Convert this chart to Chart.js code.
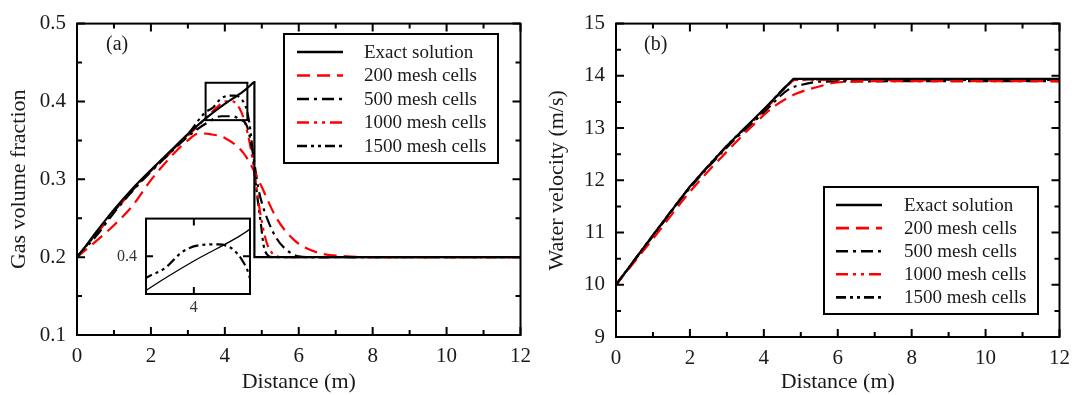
<!DOCTYPE html>
<html lang="en">
<head>
<meta charset="UTF-8">
<title>Gas volume fraction and water velocity</title>
<script src="https://cdn.jsdelivr.net/npm/chart.js"></script>
<style>
  body { margin: 0; background: #fff; }
  #wrap { position: relative; width: 1079px; height: 395px; }
  canvas { position: absolute; }
</style>
</head>
<body>
<div id="wrap">
  <canvas id="gas" width="540" height="395" style="left:0;top:0"></canvas>
  <canvas id="vel" width="539" height="395" style="left:540px;top:0"></canvas>
  <canvas id="inset" width="160" height="120" style="left:100px;top:200px"></canvas>
</div>
<script>
// ---- series labels ----
const seriesNames = ['Exact solution', '200 mesh cells', '500 mesh cells', '1000 mesh cells', '1500 mesh cells'];

// ---- (a) gas volume fraction vs distance (m) ----
const gasExactX = [0, 0.25, 0.5, 1, 1.5, 2, 2.5, 3, 3.5, 4, 4.5, 4.7, 4.8, 4.8, 12];
const gasExactY = [0.2, 0.215, 0.231, 0.261, 0.288, 0.312, 0.335, 0.358, 0.379, 0.397, 0.413, 0.421, 0.425, 0.2, 0.2];
const gas200X = [0, 0.5, 1, 1.5, 2, 2.5, 3, 3.3, 3.6, 4, 4.5, 4.8, 5, 5.4, 5.9, 6.5, 7.3, 8, 12];
const gas200Y = [0.2, 0.22, 0.241, 0.266, 0.299, 0.327, 0.35, 0.359, 0.358, 0.353, 0.334, 0.31, 0.29, 0.25, 0.221, 0.206, 0.201, 0.2, 0.2];
const gas500X = [0, 0.5, 1, 1.5, 2, 2.5, 3, 3.5, 3.9, 4.2, 4.4, 4.6, 4.75, 4.9, 5.0, 5.2, 5.4, 5.65, 6.0, 6.3, 12];
const gas500Y = [0.2, 0.226, 0.257, 0.285, 0.31, 0.333, 0.355, 0.372, 0.381, 0.381, 0.377, 0.368, 0.336, 0.29, 0.27, 0.243, 0.224, 0.21, 0.201, 0.2, 0.2];
const gas1000X = [0, 0.5, 1, 1.5, 2, 2.5, 3, 3.5, 3.8, 4.0, 4.2, 4.4, 4.53, 4.7, 4.8, 4.94, 5.11, 5.25, 5.4, 5.6, 12];
const gas1000Y = [0.2, 0.228, 0.258, 0.285, 0.31, 0.333, 0.356, 0.379, 0.393, 0.4, 0.4, 0.391, 0.375, 0.34, 0.31, 0.262, 0.222, 0.207, 0.201, 0.2, 0.2];
const gas1500X = [0, 0.5, 1, 1.5, 2, 2.5, 3, 3.45, 3.69, 3.87, 4.05, 4.27, 4.42, 4.53, 4.6, 4.7, 4.8, 4.9, 4.98, 5.05, 5.15, 5.3, 12];
const gas1500Y = [0.2, 0.229, 0.259, 0.286, 0.311, 0.334, 0.358, 0.385, 0.3926, 0.4026, 0.407, 0.4076, 0.4046, 0.397, 0.388, 0.36, 0.31, 0.27, 0.241, 0.215, 0.203, 0.2, 0.2];
const gasZoomBox = [3.48, 4.61, 0.376, 0.424];   // x from, x to, y from, y to

// ---- (b) water velocity (m/s) vs distance (m) ----
const velExactX = [0, 1, 2, 3, 4, 4.8, 12];
const velExactY = [10, 10.95, 11.88, 12.66, 13.36, 13.94, 13.94];
const vel200X = [0, 1, 2, 3, 4, 4.31, 4.85, 5.57, 5.92, 7.35, 12];
const vel200Y = [10, 10.88, 11.78, 12.55, 13.25, 13.43, 13.65, 13.81, 13.87, 13.9, 13.9];
const vel500X = [0, 1, 2, 3, 4, 4.67, 5.03, 5.57, 12];
const vel500Y = [10, 10.93, 11.85, 12.63, 13.3, 13.74, 13.83, 13.89, 13.9];
const vel1000X = [0, 1, 2, 3, 4, 4.6, 4.85, 5.2, 12];
const vel1000Y = [10, 10.94, 11.87, 12.65, 13.33, 13.78, 13.92, 13.92, 13.9];
const vel1500X = [0, 1, 2, 3, 4, 4.7, 4.9, 12];
const vel1500Y = [10, 10.95, 11.87, 12.66, 13.35, 13.86, 13.93, 13.92];

// ---- styles ----
const serif = 'Liberation Serif';
const seriesColors = ['#000', '#ff0000', '#000', '#ff0000', '#000'];
const seriesDash = [[], [13, 7], [12, 5, 3, 5], [12, 5, 3, 5, 3, 5], [10, 4, 3, 4, 3, 4]];

const pts = (xs, ys) => xs.map((x, i) => ({ x: x, y: ys[i] }));

function makeSets(list, width) {
  return list.map((s, i) => ({
    label: seriesNames[s.k],
    data: pts(s.x, s.y),
    borderColor: seriesColors[s.k],
    borderDash: seriesDash[s.k],
    borderWidth: width[i] || 2,
    pointRadius: 0,
    fill: false,
    cubicInterpolationMode: s.straight ? 'default' : 'monotone',
    tension: 0
  }));
}

// inward ticks on all four sides + frame
const frameTicks = {
  id: 'frameTicks',
  beforeDatasetsDraw(chart, args, o) {
    if (!o.fillArea) return;
    const a = chart.chartArea, ctx = chart.ctx;
    ctx.save(); ctx.fillStyle = '#fff';
    ctx.fillRect(a.left, a.top, a.right - a.left, a.bottom - a.top);
    ctx.restore();
  },
  afterDatasetsDraw(chart, args, o) {
    const { ctx, chartArea: a, scales: { x, y } } = chart;
    const list = (sc, minor, major, fixed) => {
      if (fixed) return fixed.map(v => [v, true]);
      const n = Math.round((sc.max - sc.min) / minor), out = [];
      for (let i = 0; i <= n; i++) {
        const v = sc.min + i * minor, q = v / major;
        out.push([v, Math.abs(q - Math.round(q)) < 1e-6]);
      }
      return out;
    };
    ctx.save();
    ctx.strokeStyle = '#000';
    ctx.lineWidth = o.tickWidth;
    ctx.beginPath();
    list(x, o.xMinor, o.xMajor, o.xList).forEach(([v, maj]) => {
      const p = x.getPixelForValue(v), l = maj ? o.major : o.minor;
      ctx.moveTo(p, a.bottom); ctx.lineTo(p, a.bottom - l);
      ctx.moveTo(p, a.top); ctx.lineTo(p, a.top + l);
    });
    list(y, o.yMinor, o.yMajor, o.yList).forEach(([v, maj]) => {
      const p = y.getPixelForValue(v), l = maj ? o.major : o.minor;
      ctx.moveTo(a.left, p); ctx.lineTo(a.left + l, p);
      ctx.moveTo(a.right, p); ctx.lineTo(a.right - l, p);
    });
    ctx.stroke();
    ctx.lineWidth = o.width;
    ctx.strokeRect(a.left, a.top, a.right - a.left, a.bottom - a.top);
    ctx.restore();
  }
};

// boxed legend, panel tag and zoom rectangle
const boxLegend = {
  id: 'boxLegend',
  afterDraw(chart, args, o) {
    if (!o.box) return;
    const ctx = chart.ctx;
    ctx.save();
    ctx.fillStyle = '#fff';
    ctx.fillRect(o.box[0], o.box[1], o.box[2], o.box[3]);
    ctx.lineWidth = 2; ctx.strokeStyle = '#000';
    ctx.strokeRect(o.box[0], o.box[1], o.box[2], o.box[3]);
    ctx.font = '19px "' + serif + '"';
    ctx.textBaseline = 'middle';
    chart.data.datasets.forEach((ds, i) => {
      const yy = o.rowY + i * o.rowH;
      ctx.setLineDash(ds.borderDash);
      ctx.strokeStyle = ds.borderColor;
      ctx.lineWidth = 2.6;
      ctx.beginPath(); ctx.moveTo(o.lineX[0], yy); ctx.lineTo(o.lineX[1], yy); ctx.stroke();
      ctx.setLineDash([]);
      ctx.fillStyle = '#1a1a1a';
      ctx.fillText(ds.label, o.textX, yy + 1);
    });
    ctx.font = '20px "' + serif + '"';
    ctx.textBaseline = 'alphabetic';
    ctx.fillStyle = '#1a1a1a';
    ctx.fillText(o.tag, o.tagPos[0], o.tagPos[1]);
    if (o.zoomBox) {
      const { x, y } = chart.scales, z = o.zoomBox;
      const x0 = x.getPixelForValue(z[0]), x1 = x.getPixelForValue(z[1]);
      const y0 = y.getPixelForValue(z[3]), y1 = y.getPixelForValue(z[2]);
      ctx.lineWidth = 2; ctx.strokeStyle = '#000';
      ctx.strokeRect(x0, y0, x1 - x0, y1 - y0);
    }
    ctx.restore();
  }
};

function axes(xw, xh, ymin, ymax, ystep, yTitle, yTitlePad, yFmt) {
  return {
    x: {
      type: 'linear', min: 0, max: 12,
      afterFit: s => { s.height = xh; },
      grid: { display: false, drawTicks: false }, border: { display: false },
      ticks: { stepSize: 2, padding: 9, color: '#1a1a1a', font: { family: serif, size: 21 } },
      title: { display: true, text: 'Distance (m)', color: '#1a1a1a', padding: { top: 0, bottom: 0 }, font: { family: serif, size: 22 } }
    },
    y: {
      type: 'linear', min: ymin, max: ymax,
      afterFit: s => { s.width = xw; },
      grid: { display: false, drawTicks: false }, border: { display: false },
      ticks: { stepSize: ystep, padding: 11, color: '#1a1a1a', font: { family: serif, size: 21 }, callback: yFmt },
      title: { display: true, text: yTitle, color: '#1a1a1a', padding: { top: yTitlePad, bottom: 0 }, font: { family: serif, size: 22 } }
    }
  };
}

const gasSeries = [
  { k: 0, x: gasExactX, y: gasExactY },
  { k: 1, x: gas200X, y: gas200Y },
  { k: 2, x: gas500X, y: gas500Y },
  { k: 3, x: gas1000X, y: gas1000Y },
  { k: 4, x: gas1500X, y: gas1500Y }
];
const velSeries = [
  { k: 0, x: velExactX, y: velExactY, straight: true },
  { k: 1, x: vel200X, y: vel200Y },
  { k: 2, x: vel500X, y: vel500Y },
  { k: 3, x: vel1000X, y: vel1000Y },
  { k: 4, x: vel1500X, y: vel1500Y }
];

new Chart(document.getElementById('gas'), {
  type: 'line',
  data: { datasets: makeSets(gasSeries, [2.2, 2.2, 2.2, 2.2, 2.2]) },
  options: {
    responsive: false, animation: false,
    layout: { padding: { top: 19, right: 18, left: 0, bottom: 0 } },
    scales: axes(77, 60, 0.1, 0.5, 0.1, 'Gas volume fraction', 6, v => v.toFixed(1)),
    plugins: {
      legend: { display: false }, tooltip: { enabled: false },
      frameTicks: { width: 2, tickWidth: 2, major: 8, minor: 5, xMinor: 1, xMajor: 2, yMinor: 0.05, yMajor: 0.1 },
      boxLegend: { box: [284, 34, 214, 129], rowY: 52, rowH: 23.5, lineX: [297, 343], textX: 364, tag: '(a)', tagPos: [106, 50], zoomBox: gasZoomBox }
    }
  },
  plugins: [frameTicks, boxLegend]
});

new Chart(document.getElementById('vel'), {
  type: 'line',
  data: { datasets: makeSets(velSeries, [2.2, 2.2, 2.2, 2.2, 2.2]) },
  options: {
    responsive: false, animation: false,
    layout: { padding: { top: 19, right: 16, left: 0, bottom: 0 } },
    scales: axes(76, 58, 9, 15, 1, 'Water velocity (m/s)', 4, v => String(v)),
    plugins: {
      legend: { display: false }, tooltip: { enabled: false },
      frameTicks: { width: 2, tickWidth: 2, major: 8, minor: 5, xMinor: 1, xMajor: 2, yMinor: 0.5, yMajor: 1 },
      boxLegend: { box: [284, 187, 214, 127], rowY: 205, rowH: 23.1, lineX: [296, 342], textX: 364, tag: '(b)', tagPos: [104, 50] }
    }
  },
  plugins: [frameTicks, boxLegend]
});

// inset: magnified view of the zoom box in panel (a)
new Chart(document.getElementById('inset'), {
  type: 'line',
  data: { datasets: makeSets([gasSeries[0], gasSeries[4]], [1.3, 2.2]) },
  options: {
    responsive: false, animation: false,
    layout: { padding: { top: 14, right: 10, left: 0, bottom: 0 } },
    scales: {
      x: {
        type: 'linear', min: gasZoomBox[0], max: gasZoomBox[1],
        afterFit: s => { s.height = 26; },
        afterBuildTicks: s => { s.ticks = [{ value: 4 }]; },
        grid: { display: false, drawTicks: false }, border: { display: false },
        ticks: { padding: 4, color: '#333', font: { family: serif, size: 16 }, callback: v => String(v) }
      },
      y: {
        type: 'linear', min: gasZoomBox[2], max: gasZoomBox[3],
        afterFit: s => { s.width = 46; },
        afterBuildTicks: s => { s.ticks = [{ value: 0.4 }]; },
        grid: { display: false, drawTicks: false }, border: { display: false },
        ticks: { padding: 9, color: '#333', font: { family: serif, size: 16 }, callback: v => v.toFixed(1) }
      }
    },
    plugins: {
      legend: { display: false }, tooltip: { enabled: false },
      frameTicks: { fillArea: true, width: 2, tickWidth: 2, major: 7, minor: 7, xList: [4], yList: [0.4] },
      boxLegend: {}
    }
  },
  plugins: [frameTicks]
});
</script>
</body>
</html>
